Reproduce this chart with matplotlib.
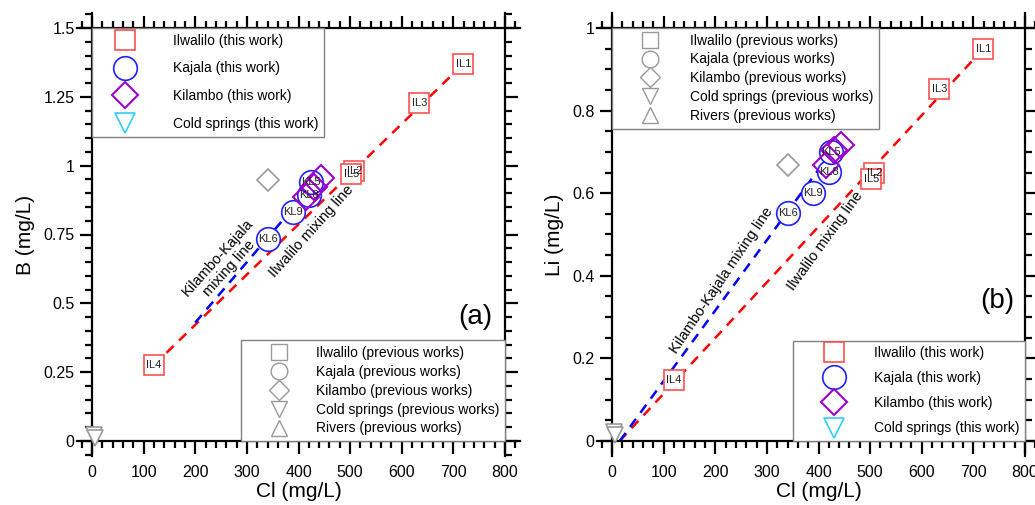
import matplotlib
matplotlib.use("Agg")
import matplotlib.pyplot as plt
from matplotlib.lines import Line2D
from matplotlib.ticker import MultipleLocator

plt.rcParams['font.family'] = ['Liberation Sans', 'DejaVu Sans']

# ---- data ----
il_names = ["IL1", "IL3", "IL2", "IL5", "IL4"]
il_cl = [719, 634, 508, 502, 120]
il_b = [1.369, 1.228, 0.980, 0.968, 0.276]
il_li = [0.949, 0.852, 0.648, 0.634, 0.148]

kl_names = ["KL6", "KL9", "KL8", "KL5"]
kl_cl = [341, 390, 420, 424]
kl_b = [0.734, 0.832, 0.894, 0.941]
kl_li = [0.552, 0.600, 0.651, 0.700]

kb_cl = [443, 430, 414]
kb_b = [0.955, 0.923, 0.886]
kb_li = [0.717, 0.705, 0.668]

prev_kb_cl = [341]
prev_kb_b = [0.948]
prev_kb_li = [0.668]

prev_cs_cl = [3, 6]
prev_cs_b = [0.02, 0.012]
prev_cs_li = [0.022, 0.014]

# mixing lines (start, end)
il_line_a = ([120, 719], [0.276, 1.369])
kk_line_a = ([200, 430], [0.43, 0.935])
il_line_b = ([15, 719], [0.0, 0.949])
kk_line_b = ([15, 425], [0.0, 0.70])

RED = "#ff5050"
BLUE = "#2020ff"
PURPLE = "#9900cc"
CYAN = "#33ccff"
GRAY = "#999999"


def style_axes(ax, ymax, ymajor, yminor, yfmt):
    ext_x = 29
    ext_y = ymax * 15 / 413
    ax.set_xlim(-ext_x, 800 + ext_x)
    ax.set_ylim(-ext_y, ymax + ext_y)
    ax.spines['left'].set_position(('data', 0))
    ax.spines['bottom'].set_position(('data', 0))
    ax.spines['right'].set_position(('data', 800))
    ax.spines['top'].set_position(('data', ymax))
    for s in ax.spines.values():
        s.set_linewidth(1.6)
    ax.xaxis.set_major_locator(MultipleLocator(100))
    ax.xaxis.set_minor_locator(MultipleLocator(20))
    ax.yaxis.set_major_locator(MultipleLocator(ymajor))
    ax.yaxis.set_minor_locator(MultipleLocator(yminor))
    ax.set_xticks(range(0, 801, 100))
    ax.set_yticks(yfmt[0])
    ax.set_yticklabels(yfmt[1])
    ax.tick_params(which='both', direction='out', top=True, right=True,
                   labeltop=False, labelright=False, width=1.6, labelsize=11.5)
    ax.tick_params(which='major', length=9)
    ax.tick_params(which='minor', length=5)
    ax.tick_params(axis='x', pad=8)
    ax.set_xlabel("Cl (mg/L)", fontsize=15, labelpad=2)


def this_work_handles():
    return [
        Line2D([], [], ls='none', marker='s', ms=15, mfc='white', mec=RED, mew=1.2, label="Ilwalilo (this work)"),
        Line2D([], [], ls='none', marker='o', ms=17, mfc='white', mec=BLUE, mew=1.2, label="Kajala (this work)"),
        Line2D([], [], ls='none', marker='D', ms=13, mfc='white', mec=PURPLE, mew=1.5, label="Kilambo (this work)"),
        Line2D([], [], ls='none', marker='v', ms=14, mfc='white', mec=CYAN, mew=1.2, label="Cold springs (this work)"),
    ]


def prev_handles():
    return [
        Line2D([], [], ls='none', marker='s', ms=11, mfc='white', mec=GRAY, mew=1.0, label="Ilwalilo (previous works)"),
        Line2D([], [], ls='none', marker='o', ms=12, mfc='white', mec=GRAY, mew=1.0, label="Kajala (previous works)"),
        Line2D([], [], ls='none', marker='D', ms=10, mfc='white', mec=GRAY, mew=1.0, label="Kilambo (previous works)"),
        Line2D([], [], ls='none', marker='v', ms=11, mfc='white', mec=GRAY, mew=1.0, label="Cold springs (previous works)"),
        Line2D([], [], ls='none', marker='^', ms=11, mfc='white', mec=GRAY, mew=1.0, label="Rivers (previous works)"),
    ]


def draw_points(ax, il_y, kl_y, kb_y, prev_kb_y, prev_cs_y):
    ax.plot(prev_kb_cl, prev_kb_y, ls='none', marker='D', ms=11, mfc='white', mec=GRAY, mew=1.2, zorder=3)
    ax.plot(prev_cs_cl, prev_cs_y, ls='none', marker='v', ms=11, mfc='white', mec=GRAY, mew=1.2, zorder=3,
            clip_on=False)
    ax.plot(il_cl, il_y, ls='none', marker='s', ms=15, mfc='white', mec=RED, mew=1.2, zorder=4)
    for n, x, y in zip(il_names, il_cl, il_y):
        ax.text(x, y, n, fontsize=8, ha='center', va='center', color='#222222', zorder=7)
    ax.plot(kl_cl, kl_y, ls='none', marker='o', ms=17, mfc='white', mec=BLUE, mew=1.2, zorder=5)
    ax.plot(kb_cl, kb_y, ls='none', marker='D', ms=13, mfc='none', mec=PURPLE, mew=1.5, zorder=6)
    for n, x, y in zip(kl_names, kl_cl, kl_y):
        ax.text(x, y, n, fontsize=8, ha='center', va='center', color='#222222', zorder=7)


fig = plt.figure(figsize=(10.35, 5.05), dpi=100)
ax1 = fig.add_axes([77 / 1035, 49 / 505, 443 / 1035, 443 / 505])
ax2 = fig.add_axes([597 / 1035, 49 / 505, 443 / 1035, 443 / 505])

# ---- panel (a) ----
ax1.plot(*il_line_a, ls=(0, (4, 3)), color='red', lw=1.8, zorder=2)
ax1.plot(*kk_line_a, ls=(0, (4, 3)), color='blue', lw=1.8, zorder=2)
draw_points(ax1, il_b, kl_b, kb_b, prev_kb_b, prev_cs_b)
style_axes(ax1, 1.5, 0.25, 0.05,
           ([0, 0.25, 0.5, 0.75, 1, 1.25, 1.5], ["0", "0.25", "0.5", "0.75", "1", "1.25", "1.5"]))
ax1.set_ylabel("B (mg/L)", fontsize=15, labelpad=6)
ax1.text(255, 0.645, "Kilambo-Kajala\nmixing line", rotation=48, fontsize=10.5,
         ha='center', va='center', rotation_mode='anchor')
ax1.text(426, 0.762, "Ilwalilo mixing line", rotation=48, fontsize=10.5,
         ha='center', va='center', rotation_mode='anchor')
ax1.text(742, 0.45, "(a)", fontsize=20, ha='center', va='center')

leg1 = ax1.legend(handles=this_work_handles(), loc='upper left', bbox_to_anchor=(0, 1.5),
                  bbox_transform=ax1.transData, borderaxespad=0, fancybox=False, framealpha=1,
                  edgecolor='#808080', fontsize=10, handlelength=4.0, handletextpad=1.4,
                  labelspacing=1.0, borderpad=0.4)
leg1.get_frame().set_linewidth(1.0)
ax1.add_artist(leg1)
leg2 = ax1.legend(handles=prev_handles(), loc='lower right', bbox_to_anchor=(800, 0),
                  bbox_transform=ax1.transData, borderaxespad=0, fancybox=False, framealpha=1,
                  edgecolor='#808080', fontsize=10, handlelength=4.7, handletextpad=0.3,
                  labelspacing=0.35, borderpad=0.4)
leg2.get_frame().set_linewidth(1.0)

# ---- panel (b) ----
ax2.plot(*il_line_b, ls=(0, (4, 3)), color='red', lw=1.8, zorder=2)
ax2.plot(*kk_line_b, ls=(0, (4, 3)), color='blue', lw=1.8, zorder=2)
draw_points(ax2, il_li, kl_li, kb_li, prev_kb_li, prev_cs_li)
style_axes(ax2, 1.0, 0.2, 0.05,
           ([0, 0.2, 0.4, 0.6, 0.8, 1], ["0", "0.2", "0.4", "0.6", "0.8", "1"]))
ax2.set_ylabel("Li (mg/L)", fontsize=15, labelpad=6)
ax2.text(213, 0.39, "Kilambo-Kajala mixing line", rotation=56, fontsize=10.5,
         ha='center', va='center', rotation_mode='anchor')
ax2.text(413, 0.485, "Ilwalilo mixing line", rotation=54, fontsize=10.5,
         ha='center', va='center', rotation_mode='anchor')
ax2.text(746, 0.34, "(b)", fontsize=20, ha='center', va='center')

leg3 = ax2.legend(handles=prev_handles(), loc='upper left', bbox_to_anchor=(0, 1.0),
                  bbox_transform=ax2.transData, borderaxespad=0, fancybox=False, framealpha=1,
                  edgecolor='#808080', fontsize=10, handlelength=4.7, handletextpad=0.5,
                  labelspacing=0.35, borderpad=0.4)
leg3.get_frame().set_linewidth(1.0)
ax2.add_artist(leg3)
leg4 = ax2.legend(handles=this_work_handles(), loc='lower right', bbox_to_anchor=(800, 0),
                  bbox_transform=ax2.transData, borderaxespad=0, fancybox=False, framealpha=1,
                  edgecolor='#808080', fontsize=10, handlelength=5.0, handletextpad=0.4,
                  labelspacing=0.8, borderpad=0.4)
leg4.get_frame().set_linewidth(1.0)

fig.savefig("out.png", dpi=100)
